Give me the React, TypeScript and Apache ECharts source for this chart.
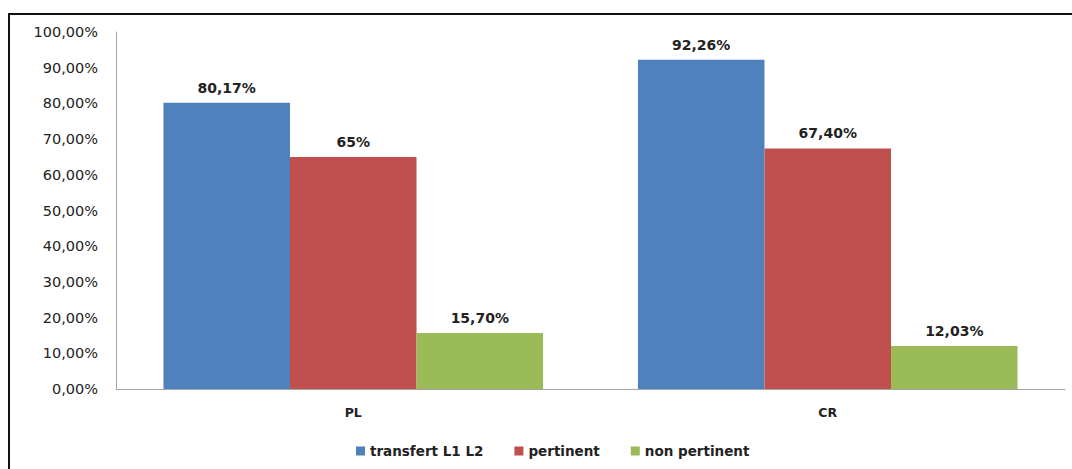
import React, { useEffect, useRef } from "react";
import * as echarts from "echarts";

const categories = ["PL", "CR"];
const seriesNames = ["transfert L1 L2", "pertinent", "non pertinent"];
const transfert = [80.17, 92.26];
const pertinent = [65, 67.4];
const nonPertinent = [15.7, 12.03];
const transfertLabels = ["80,17%", "92,26%"];
const pertinentLabels = ["65%", "67,40%"];
const nonPertinentLabels = ["15,70%", "12,03%"];
const colors = ["#4F81BD", "#C0504D", "#9BBB59"];

const FONT = "'DejaVu Sans', Verdana, sans-serif";

export default function App() {
  const ref = useRef<HTMLDivElement>(null);
  useEffect(() => {
    const chart = echarts.init(ref.current!, null, { renderer: "svg" });
    const mk = (name: string, data: number[], labels: string[], color: string) => ({
      name,
      type: "bar",
      data,
      barGap: "0%",
      barCategoryGap: "20%",
      itemStyle: { color },
      label: {
        show: true,
        position: "top",
        distance: 8,
        fontFamily: FONT,
        fontWeight: "bold",
        fontSize: 14,
        color: "#222",
        formatter: (p: any) => labels[p.dataIndex],
      },
    });
    chart.setOption({
      animation: false,
      backgroundColor: "#fff",
      grid: { left: 116, right: 7, top: 32, bottom: 80 },
      graphic: [
        {
          type: "rect",
          shape: { x: 9, y: 14, width: 1100, height: 500 },
          style: { fill: "none", stroke: "#111", lineWidth: 2 },
          silent: true,
        },
      ],
      legend: {
        bottom: 6,
        left: 351,
        itemWidth: 9,
        itemHeight: 9,
        itemGap: 31,
        icon: "rect",
        textStyle: { fontFamily: FONT, fontWeight: "bold", fontSize: 13.5, color: "#222" },
        data: seriesNames,
      },
      xAxis: {
        type: "category",
        data: categories,
        axisLine: { lineStyle: { color: "#A6A6A6" } },
        axisTick: { show: false },
        axisLabel: {
          fontFamily: FONT,
          fontWeight: "bold",
          fontSize: 12.5,
          color: "#222",
          margin: 17,
        },
      },
      yAxis: {
        type: "value",
        min: 0,
        max: 100,
        interval: 10,
        axisLine: { show: true, lineStyle: { color: "#A6A6A6" } },
        axisTick: { show: false },
        splitLine: { show: false },
        axisLabel: {
          fontFamily: FONT,
          fontSize: 14.5,
          color: "#222",
          margin: 18,
          formatter: (v: number) => v.toFixed(2).replace(".", ",") + "%",
        },
      },
      series: [
        mk(seriesNames[0], transfert, transfertLabels, colors[0]),
        mk(seriesNames[1], pertinent, pertinentLabels, colors[1]),
        mk(seriesNames[2], nonPertinent, nonPertinentLabels, colors[2]),
      ],
    });
    return () => chart.dispose();
  }, []);
  return (
    <div
      ref={ref}
      style={{ position: "absolute", left: 0, top: 0, width: 1072, height: 469 }}
    />
  );
}
